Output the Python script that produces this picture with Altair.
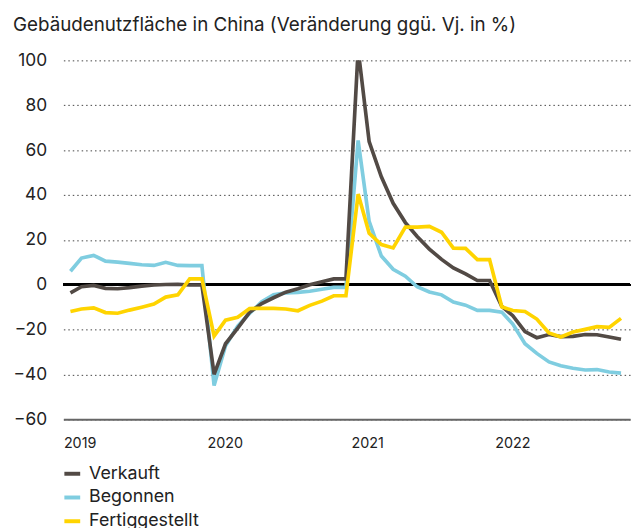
import altair as alt
import pandas as pd

# Monthly observations (year-to-date change vs. previous year, %), Feb 2019 .. Dec 2022
months = pd.date_range("2019-02-01", "2022-12-01", freq="MS").strftime("%Y-%m-%d").tolist()

verkauft = [
    -3.6, -0.9, -0.3, -1.6, -1.8, -1.3, -0.6, -0.1, 0.1, 0.2, -0.1,
    -0.1,
    -39.9, -26.3, -19.3, -12.3, -8.4, -5.8, -3.3, -1.8, 0.0, 1.3, 2.6,
    2.6,
    104.9, 63.8, 48.1, 36.3, 27.7, 21.5, 15.9, 11.3, 7.5, 4.8, 1.9,
    1.9,
    -9.6, -13.8, -20.9, -23.6, -22.2, -23.1, -23.0, -22.2, -22.3, -23.3, -24.3,
]
begonnen = [
    6.0, 11.9, 13.1, 10.5, 10.1, 9.5, 8.9, 8.6, 10.0, 8.6, 8.5,
    8.5,
    -44.9, -27.2, -18.4, -12.8, -7.6, -4.5, -3.6, -3.4, -2.9, -2.0, -1.2,
    -1.2,
    64.3, 28.2, 12.8, 6.9, 3.8, -0.9, -3.2, -4.5, -7.7, -9.1, -11.4,
    -11.4,
    -12.2, -17.5, -26.3, -30.6, -34.4, -36.1, -37.2, -38.0, -37.8, -38.9, -39.4,
]
fertiggestellt = [
    -11.9, -10.8, -10.3, -12.4, -12.7, -11.3, -10.0, -8.6, -5.5, -4.5, 2.6,
    2.6,
    -22.9, -15.8, -14.5, -10.6, -10.5, -10.5, -10.8, -11.6, -9.2, -7.3, -4.9,
    -4.9,
    40.4, 22.9, 17.9, 16.4, 25.7, 25.7, 26.0, 23.4, 16.3, 16.2, 11.2,
    11.2,
    -9.8, -11.5, -11.9, -15.3, -21.5, -23.3, -21.1, -19.9, -18.7, -19.0, -15.0,
]

series_names = ["Verkauft", "Begonnen", "Fertiggestellt"]
series_colors = ["#524a45", "#7fcde0", "#ffd400"]
year_ticks = [2019, 2020, 2021, 2022]
y_ticks = [-60, -40, -20, 0, 20, 40, 60, 80, 100]

rows = []
for name, vals in zip(series_names, [verkauft, begonnen, fertiggestellt]):
    for m, v in zip(months, vals):
        rows.append({"Monat": m, "Reihe": name, "Wert": v})
df = pd.DataFrame(rows)

FONT = "Inter"

x_enc = alt.X(
    "Monat:T",
    scale=alt.Scale(domain=[alt.DateTime(year=2019, month=1, date=14),
                            alt.DateTime(year=2022, month=12, date=24)]),
    axis=alt.Axis(
        values=[alt.DateTime(year=y, month=1, date=14) for y in year_ticks],
        format="%Y", labelAlign="left", labelFlush=False,
        labelFontSize=14.5, labelPadding=17, labelColor="#222",
        grid=False, ticks=False, domain=True, domainColor="#666",
        domainWidth=2, title=None,
    ),
)
y_enc = alt.Y(
    "Wert:Q",
    scale=alt.Scale(domain=[-60, 100], nice=False, zero=False),
    axis=alt.Axis(
        values=y_ticks, labelFontSize=17.5, labelPadding=17, labelColor="#222",
        grid=True, gridDash=[1.5, 3], gridColor="#444", gridWidth=1,
        ticks=False, domain=False, title=None,
    ),
)
color_enc = alt.Color(
    "Reihe:N",
    scale=alt.Scale(domain=series_names, range=series_colors),
    legend=alt.Legend(
        title=None, orient="none", legendX=-1, legendY=408,
        direction="vertical", symbolType="stroke", symbolSize=256,
        symbolStrokeWidth=4, labelFontSize=18, labelOffset=7,
        rowPadding=5, labelColor="#222",
    ),
)

base = alt.Chart(df)

zero = alt.Chart(df).mark_rule(color="black", strokeWidth=2).encode(y=alt.datum(0))

def line(name):
    return base.transform_filter(alt.datum.Reihe == name).mark_line(
        strokeWidth=3.7, clip=True, strokeJoin="miter"
    ).encode(x=x_enc, y=y_enc, color=color_enc)

chart = alt.layer(
    zero, line("Begonnen"), line("Verkauft"), line("Fertiggestellt")
).properties(
    width=573, height=363,
    padding={"left": 5, "top": 5, "right": 5, "bottom": 5},
    title=alt.TitleParams(
        "Gebäudenutzfläche in China (Veränderung ggü. Vj. in %)",
        anchor="start", frame="bounds", fontSize=19, fontWeight="normal",
        color="#222", font=FONT, offset=17,
    ),
).configure(font=FONT).configure_view(stroke=None)

chart.save("out.html", embed_options={"renderer": "svg", "actions": False})
